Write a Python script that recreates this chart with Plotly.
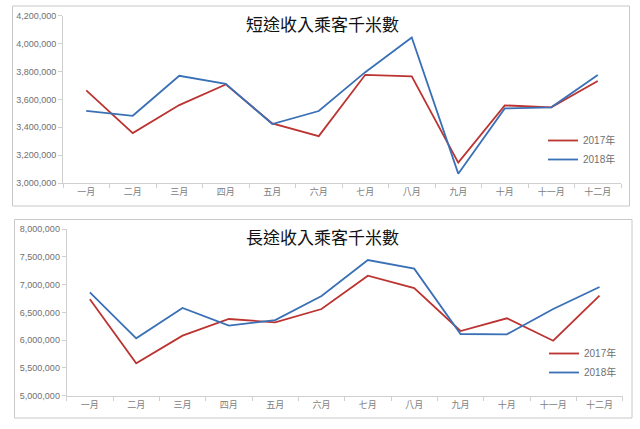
import plotly.graph_objects as go

months = ['一月', '二月', '三月', '四月', '五月', '六月',
          '七月', '八月', '九月', '十月', '十一月', '十二月']

# 短途收入乘客千米數
short_2017 = [3665000, 3358000, 3559000, 3707000, 3428000, 3336000,
              3776000, 3765000, 3146000, 3557000, 3543000, 3731000]
short_2018 = [3518000, 3482000, 3769000, 3712000, 3423000, 3516000,
              3795000, 4044000, 3067000, 3535000, 3543000, 3774000]

# 長途收入乘客千米數
long_2017 = [6735000, 5583000, 6080000, 6380000, 6321000, 6560000,
             7160000, 6938000, 6164000, 6393000, 5990000, 6800000]
long_2018 = [6861000, 6033000, 6578000, 6260000, 6362000, 6794000,
             7442000, 7286000, 6110000, 6105000, 6560000, 6956000]

RED = '#BC3431'
BLUE = '#3A70B6'
W, H = 640, 429
FONT = 'Liberation Sans, Noto Sans CJK TC'


def px_x(x):
    return x / W


def px_y(y):
    return 1 - y / H


fig = go.Figure()

fig.add_trace(go.Scatter(x=months, y=short_2017, name='2017年', mode='lines',
                         line=dict(color=RED, width=1.8), xaxis='x', yaxis='y', legend='legend'))
fig.add_trace(go.Scatter(x=months, y=short_2018, name='2018年', mode='lines',
                         line=dict(color=BLUE, width=1.8), xaxis='x', yaxis='y', legend='legend'))
fig.add_trace(go.Scatter(x=months, y=long_2017, name='2017年', mode='lines',
                         line=dict(color=RED, width=1.8), xaxis='x2', yaxis='y2', legend='legend2'))
fig.add_trace(go.Scatter(x=months, y=long_2018, name='2018年', mode='lines',
                         line=dict(color=BLUE, width=1.8), xaxis='x2', yaxis='y2', legend='legend2'))

xcommon = dict(type='category', range=[-0.5, 11.5], automargin=False, showgrid=False,
               showline=True, linecolor='#D0D0D0',
               ticks='outside', tickson='boundaries', ticklen=4, tickcolor='#D0D0D0',
               tickfont=dict(size=9, color='#808080', family=FONT), zeroline=False)
ycommon = dict(automargin=False, showgrid=False, showline=True, linecolor='#D0D0D0',
               ticks='outside', ticklen=4, tickcolor='#D0D0D0', tickformat=',d',
               tickfont=dict(size=9, color='#707070', family=FONT), zeroline=False)

legcommon = dict(font=dict(size=10, color='#707070', family=FONT), bgcolor='rgba(0,0,0,0)',
                 itemwidth=30, tracegroupgap=0, xanchor='left', yanchor='middle')

fig.update_layout(
    width=W, height=H,
    margin=dict(l=0, r=0, t=0, b=0),
    paper_bgcolor='white', plot_bgcolor='white',
    font=dict(family=FONT),
    xaxis=dict(domain=[px_x(63), px_x(621)], anchor='y', **xcommon),
    yaxis=dict(domain=[px_y(183), px_y(15.7)], anchor='x', range=[3000000, 4200000],
               dtick=200000, **ycommon),
    xaxis2=dict(domain=[px_x(66.7), px_x(622.7)], anchor='y2', **xcommon),
    yaxis2=dict(domain=[px_y(395.7), px_y(229)], anchor='x2', range=[5000000, 8000000],
                dtick=500000, **ycommon),
    legend=dict(x=px_x(543), y=px_y(150), **legcommon),
    legend2=dict(x=px_x(544), y=px_y(363), **legcommon),
    shapes=[
        dict(type='rect', xref='paper', yref='paper', x0=px_x(12.5), x1=px_x(629.5),
             y0=px_y(206), y1=px_y(6), line=dict(color='#C8C8C8', width=1)),
        dict(type='rect', xref='paper', yref='paper', x0=px_x(14.5), x1=px_x(632),
             y0=px_y(418), y1=px_y(219.5), line=dict(color='#C8C8C8', width=1)),
    ],
    annotations=[
        dict(text='短途收入乘客千米數', xref='paper', yref='paper', x=px_x(322), y=px_y(24),
             yanchor='middle', showarrow=False,
             font=dict(size=17, color='#111111', family='Noto Sans CJK TC')),
        dict(text='長途收入乘客千米數', xref='paper', yref='paper', x=px_x(322), y=px_y(237),
             yanchor='middle', showarrow=False,
             font=dict(size=17, color='#111111', family='Noto Sans CJK TC')),
    ],
)

# drop the default 8px page margin so the figure sits at the window's corner
fig.write_html('out.html', config={'displayModeBar': False},
               post_script="document.body.style.margin='0';")
